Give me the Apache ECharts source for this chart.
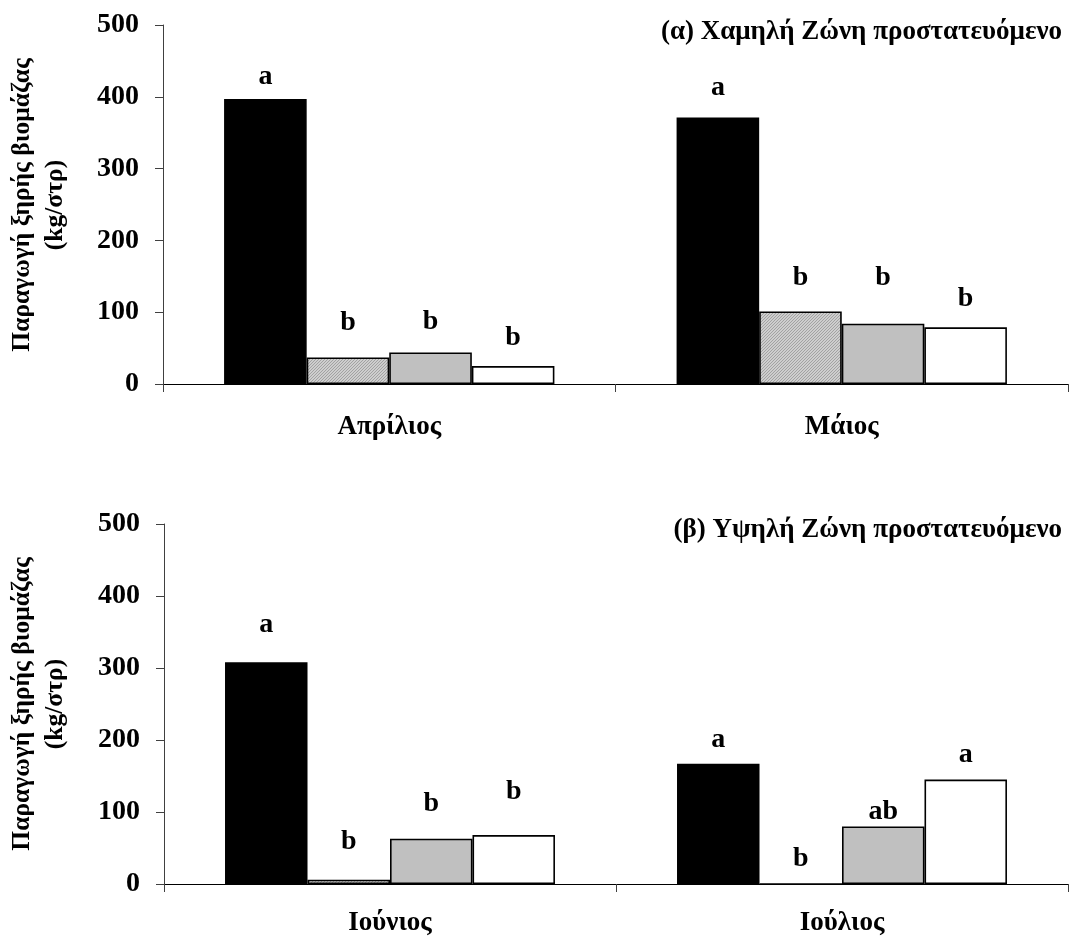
<!DOCTYPE html>
<html>
<head>
<meta charset="utf-8">
<script src="https://cdn.jsdelivr.net/npm/echarts@6/dist/echarts.min.js"></script>
<style>
html,body{margin:0;padding:0;background:#fff;}
#chart{width:1071px;height:937px;}
</style>
</head>
<body>
<div id="chart"></div>
<script>
// ---- Data ----
var categoriesA = ['Απρίλιος', 'Μάιος'];
var categoriesB = ['Ιούνιος', 'Ιούλιος'];
var yTicks = [0, 100, 200, 300, 400, 500];

var titleA = '(α) Χαμηλή Ζώνη προστατευόμενο';
var titleB = '(β) Υψηλή Ζώνη προστατευόμενο';
var yAxisTitle = 'Παραγωγή ξηρής βιομάζας\n(kg/στρ)';

// Panel (α)
var blackA   = [397, 371];
var hatchA   = [37, 101];
var greyA    = [44, 84];
var whiteA   = [25, 79];
// letter heights (where significance letters sit, in kg/στρ)
var blackA_lh = [428, 412];
var hatchA_lh = [85, 148];
var greyA_lh  = [86, 148];
var whiteA_lh = [65, 119];
var blackA_lt = ['a', 'a'];
var hatchA_lt = ['b', 'b'];
var greyA_lt  = ['b', 'b'];
var whiteA_lt = ['b', 'b'];

// Panel (β)
var blackB   = [308, 167];
var hatchB   = [6, 0];
var greyB    = [63, 80];
var whiteB   = [68, 145];
var blackB_lh = [360, 200];
var hatchB_lh = [59, 35];
var greyB_lh  = [111, 100];
var whiteB_lh = [128, 179];
var blackB_lt = ['a', 'a'];
var hatchB_lt = ['b', 'b'];
var greyB_lt  = ['b', 'ab'];
var whiteB_lt = ['b', 'a'];

// ---- Styles ----
var FONT = 'Liberation Serif';
function makeHatch() {
  var c = document.createElement('canvas');
  c.width = 3; c.height = 3;
  var g = c.getContext('2d');
  g.fillStyle = '#cecece';
  g.fillRect(0, 0, 3, 3);
  g.fillStyle = '#a2a2a2';
  for (var i = 0; i < 3; i++) { g.fillRect(i, 2 - i, 1, 1); }
  return c;
}
var hatchFill = { image: makeHatch(), repeat: 'repeat' };
var fills = ['#000000', hatchFill, '#c0c0c0', '#ffffff'];

var chart = echarts.init(document.getElementById('chart'), null, { renderer: 'canvas' });

function panelSeries(idx, values, heights, letters) {
  var out = [];
  for (var k = 0; k < 4; k++) {
    var stack = 'p' + idx + 's' + k;
    out.push({
      type: 'bar', xAxisIndex: idx, yAxisIndex: idx, stack: stack,
      data: values[k], barGap: '0%', barCategoryGap: '27%',
      itemStyle: { color: fills[k], borderColor: '#000', borderWidth: 1.6 },
      silent: true, z: 3
    });
    out.push({
      type: 'bar', xAxisIndex: idx, yAxisIndex: idx, stack: stack,
      data: heights[k].map(function (h, i) { return h - values[k][i]; }),
      barGap: '0%', barCategoryGap: '27%',
      itemStyle: { color: 'rgba(0,0,0,0)', borderWidth: 0 },
      silent: true, z: 4,
      label: {
        show: true, position: 'top', distance: 0, verticalAlign: 'middle',
        fontFamily: FONT, fontWeight: 'bold', fontSize: 28, color: '#000',
        formatter: (function (lt) { return function (p) { return lt[p.dataIndex]; }; })(letters[k])
      }
    });
  }
  return out;
}

function xAx(idx, cats, margin) {
  return {
    type: 'category', gridIndex: idx, data: cats,
    axisLine: { show: true, lineStyle: { color: '#000', width: 1 } },
    axisTick: { show: true, alignWithLabel: false, length: 8, lineStyle: { color: '#404040' } },
    axisLabel: { fontFamily: FONT, fontWeight: 'bold', fontSize: 27, color: '#000', margin: margin },
    splitLine: { show: false }
  };
}
function yAx(idx) {
  return {
    type: 'value', gridIndex: idx, min: yTicks[0], max: yTicks[yTicks.length - 1],
    interval: yTicks[1] - yTicks[0],
    axisLine: { show: true, lineStyle: { color: '#404040', width: 1 } },
    axisTick: { show: true, length: 8, lineStyle: { color: '#404040' } },
    axisLabel: { fontFamily: FONT, fontWeight: 'bold', fontSize: 28, color: '#000', margin: 24 },
    splitLine: { show: false }
  };
}

var option = {
  animation: false,
  backgroundColor: '#fff',
  title: [
    { text: titleA, right: 4, top: 14, textStyle: { fontFamily: FONT, fontWeight: 'bold', fontSize: 27, color: '#000' } },
    { text: titleB, right: 4, top: 512, textStyle: { fontFamily: FONT, fontWeight: 'bold', fontSize: 27, color: '#000' } }
  ],
  grid: [
    { left: 163, right: 3, top: 25, height: 359 },
    { left: 164, right: 3, top: 524, height: 360 }
  ],
  xAxis: [xAx(0, categoriesA, 30), xAx(1, categoriesB, 26)],
  yAxis: [yAx(0), yAx(1)],
  graphic: [
    { type: 'text', x: 39, y: 205, rotation: Math.PI / 2,
      style: { text: yAxisTitle, fontFamily: FONT, fontWeight: 'bold', fontSize: 25.5, lineHeight: 33,
               fill: '#000', align: 'center', verticalAlign: 'middle' } },
    { type: 'text', x: 39, y: 704, rotation: Math.PI / 2,
      style: { text: yAxisTitle, fontFamily: FONT, fontWeight: 'bold', fontSize: 25.5, lineHeight: 33,
               fill: '#000', align: 'center', verticalAlign: 'middle' } }
  ],
  series: [].concat(
    panelSeries(0, [blackA, hatchA, greyA, whiteA], [blackA_lh, hatchA_lh, greyA_lh, whiteA_lh], [blackA_lt, hatchA_lt, greyA_lt, whiteA_lt]),
    panelSeries(1, [blackB, hatchB, greyB, whiteB], [blackB_lh, hatchB_lh, greyB_lh, whiteB_lh], [blackB_lt, hatchB_lt, greyB_lt, whiteB_lt])
  )
};
chart.setOption(option);
</script>
</body>
</html>
